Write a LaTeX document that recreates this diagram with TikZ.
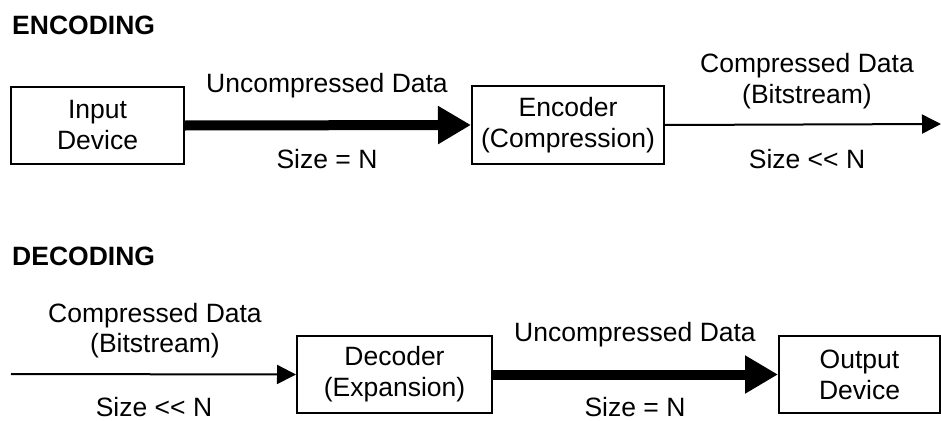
\documentclass[tikz,border=0pt]{standalone}
\usepackage{fontspec}
\setmainfont{Liberation Sans}
\usetikzlibrary{arrows.meta}
\begin{document}
\begin{tikzpicture}[x=1pt,y=-1pt,
  box/.style={draw, line width=2pt, inner sep=0pt, align=center, font=\fontsize{26.5}{31}\selectfont},
  lbl/.style={inner sep=0pt, anchor=base, font=\fontsize{26.5}{31}\selectfont},
  ttl/.style={inner sep=0pt, anchor=base west, font=\fontsize{26.5}{31}\selectfont\bfseries},
  fatarrow/.style={line width=10pt, -{Triangle[length=33pt,width=36pt]}},
  thinarrow/.style={line width=2pt, -{Triangle[length=19pt,width=19pt]}}]
\useasboundingbox (0,0) rectangle (941,420);
% encoding
\node[ttl] (enctitle) at (12,35) {ENCODING};
\node[box, minimum width=173pt, minimum height=77pt] (in) at (97.5,125.5) {Input\\Device};
\node[box, minimum width=192pt, minimum height=78pt] (enc) at (568,125) {Encoder\\(Compression)};
\coordinate (endE) at (941,124);
\draw[fatarrow] (in.east) -- (enc.west);
\draw[thinarrow] (enc.east) -- (endE);
\node[lbl] (l1) at (327,92) {Uncompressed Data};
\node[lbl] (l2) at (327,168) {Size = N};
\node[lbl] (l3) at (807,72) {Compressed Data};
\node[lbl] (l4) at (807,103) {(Bitstream)};
\node[lbl] (l5) at (807,168) {Size <{}< N};
% decoding
\node[ttl] (dectitle) at (12,265) {DECODING};
\node[box, minimum width=195pt, minimum height=77pt] (dec) at (394.5,374.5) {Decoder\\(Expansion)};
\node[box, minimum width=161pt, minimum height=77pt] (out) at (859.5,374.5) {Output\\Device};
\coordinate (startD) at (11,374);
\draw[thinarrow] (startD) -- (dec.west);
\draw[fatarrow] (dec.east) -- (out.west);
\node[lbl] (l6) at (155,322) {Compressed Data};
\node[lbl] (l7) at (155,352) {(Bitstream)};
\node[lbl] (l8) at (154,416) {Size <{}< N};
\node[lbl] (l9) at (635,341) {Uncompressed Data};
\node[lbl] (l10) at (635,416) {Size = N};
\end{tikzpicture}
\end{document}
